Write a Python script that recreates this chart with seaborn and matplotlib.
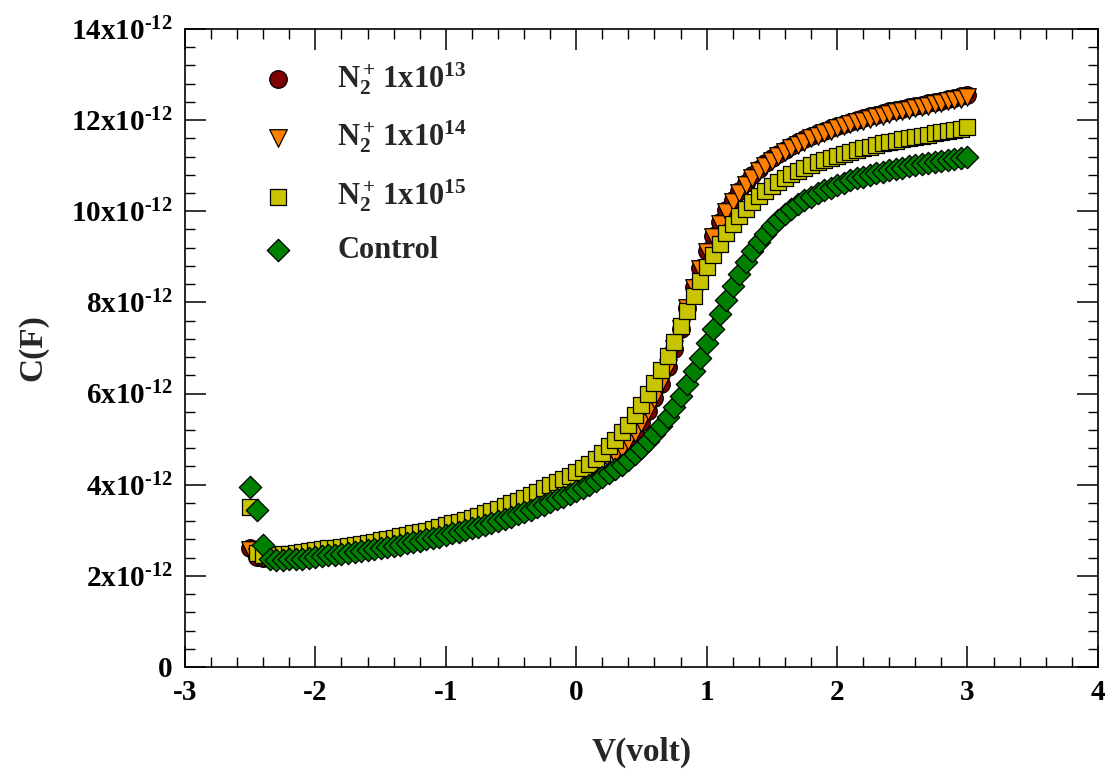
import numpy as np
import pandas as pd
import matplotlib
matplotlib.use("Agg")
import matplotlib.pyplot as plt
import seaborn as sns

# ---------------- data (C in units of 1e-12 F) ----------------
V_START, V_STOP, V_STEP = -2.5, 3.0, 0.05
voltage = np.round(np.arange(V_START, V_STOP + V_STEP / 2, V_STEP), 3)

c_1e13 = [2.62, 2.42, 2.40, 2.40, 2.41, 2.42, 2.44, 2.45, 2.47, 2.49,
          2.51, 2.53, 2.55, 2.57, 2.59, 2.61, 2.63, 2.65, 2.68, 2.70,
          2.73, 2.76, 2.79, 2.82, 2.85, 2.88, 2.91, 2.94, 2.97, 3.01,
          3.05, 3.09, 3.13, 3.17, 3.21, 3.25, 3.29, 3.34, 3.39, 3.44,
          3.49, 3.54, 3.60, 3.66, 3.72, 3.78, 3.84, 3.90, 3.96, 4.02,
          4.08, 4.15, 4.23, 4.32, 4.42, 4.53, 4.66, 4.80, 4.96, 5.15,
          5.37, 5.62, 5.90, 6.22, 6.58, 6.98, 7.42, 7.88, 8.33, 8.75,
          9.13, 9.46, 9.76, 10.02, 10.25, 10.45, 10.63, 10.79, 10.93, 11.05,
          11.16, 11.26, 11.35, 11.43, 11.51, 11.58, 11.65, 11.71, 11.77, 11.82,
          11.87, 11.92, 11.96, 12.00, 12.04, 12.08, 12.12, 12.15, 12.19, 12.22,
          12.25, 12.28, 12.31, 12.34, 12.37, 12.40, 12.43, 12.46, 12.49, 12.52,
          12.56]

c_1e14 = [2.56, 2.41, 2.39, 2.40, 2.41, 2.42, 2.43, 2.45, 2.47, 2.48,
          2.50, 2.52, 2.54, 2.56, 2.58, 2.60, 2.62, 2.65, 2.67, 2.70,
          2.72, 2.75, 2.78, 2.81, 2.84, 2.87, 2.90, 2.93, 2.97, 3.00,
          3.04, 3.08, 3.12, 3.16, 3.20, 3.24, 3.29, 3.33, 3.38, 3.43,
          3.48, 3.54, 3.59, 3.65, 3.71, 3.77, 3.83, 3.89, 3.95, 4.01,
          4.07, 4.14, 4.22, 4.31, 4.41, 4.52, 4.65, 4.79, 4.95, 5.14,
          5.36, 5.61, 5.89, 6.21, 6.57, 6.97, 7.41, 7.87, 8.31, 8.73,
          9.10, 9.43, 9.72, 9.98, 10.20, 10.40, 10.58, 10.74, 10.88, 11.00,
          11.11, 11.21, 11.30, 11.38, 11.46, 11.53, 11.60, 11.66, 11.72, 11.77,
          11.82, 11.87, 11.91, 11.95, 11.99, 12.03, 12.07, 12.10, 12.14, 12.17,
          12.20, 12.23, 12.26, 12.29, 12.32, 12.35, 12.38, 12.41, 12.44, 12.47,
          12.50]

c_1e15 = [3.50, 2.50, 2.45, 2.45, 2.46, 2.47, 2.49, 2.50, 2.52, 2.54,
          2.56, 2.58, 2.60, 2.62, 2.64, 2.66, 2.68, 2.70, 2.73, 2.75,
          2.78, 2.81, 2.84, 2.87, 2.90, 2.93, 2.96, 2.99, 3.03, 3.07,
          3.11, 3.15, 3.19, 3.23, 3.27, 3.32, 3.37, 3.42, 3.47, 3.53,
          3.59, 3.65, 3.71, 3.78, 3.85, 3.92, 3.99, 4.06, 4.13, 4.20,
          4.27, 4.36, 4.46, 4.57, 4.70, 4.84, 4.99, 5.15, 5.32, 5.52,
          5.74, 5.98, 6.24, 6.52, 6.82, 7.14, 7.48, 7.82, 8.15, 8.47,
          8.77, 9.04, 9.29, 9.52, 9.72, 9.90, 10.06, 10.20, 10.33, 10.45,
          10.55, 10.64, 10.73, 10.81, 10.88, 10.95, 11.01, 11.07, 11.12, 11.17,
          11.22, 11.26, 11.30, 11.34, 11.38, 11.42, 11.45, 11.49, 11.52, 11.55,
          11.58, 11.61, 11.63, 11.66, 11.68, 11.71, 11.73, 11.76, 11.78, 11.81,
          11.85]

c_control = [3.95, 3.45, 2.68, 2.38, 2.35, 2.35, 2.36, 2.37, 2.38, 2.40,
             2.41, 2.43, 2.45, 2.46, 2.48, 2.50, 2.52, 2.54, 2.56, 2.58,
             2.61, 2.63, 2.66, 2.68, 2.71, 2.74, 2.77, 2.80, 2.83, 2.86,
             2.89, 2.93, 2.96, 3.00, 3.04, 3.08, 3.12, 3.16, 3.21, 3.25,
             3.30, 3.35, 3.40, 3.45, 3.51, 3.56, 3.62, 3.68, 3.74, 3.80,
             3.86, 3.93, 4.00, 4.08, 4.16, 4.25, 4.34, 4.44, 4.55, 4.67,
             4.80, 4.95, 5.11, 5.29, 5.49, 5.71, 5.95, 6.21, 6.49, 6.79,
             7.10, 7.42, 7.74, 8.05, 8.35, 8.63, 8.89, 9.12, 9.33, 9.51,
             9.67, 9.81, 9.94, 10.05, 10.15, 10.24, 10.32, 10.39, 10.46, 10.52,
             10.58, 10.63, 10.68, 10.72, 10.76, 10.80, 10.84, 10.87, 10.90, 10.93,
             10.96, 10.99, 11.01, 11.04, 11.06, 11.09, 11.11, 11.13, 11.15, 11.17,
             11.19]

series_labels = [r"$\mathrm{N}_\mathrm{2}^{\,\mathrm{+}}$ 1x10$^{13}$",
                 r"$\mathrm{N}_\mathrm{2}^{\,\mathrm{+}}$ 1x10$^{14}$",
                 r"$\mathrm{N}_\mathrm{2}^{\,\mathrm{+}}$ 1x10$^{15}$",
                 "Control"]
series_values = [c_1e13, c_1e14, c_1e15, c_control]

x_ticks = [-3, -2, -1, 0, 1, 2, 3, 4]
x_ticklabels = ["-3", "-2", "-1", "0", "1", "2", "3", "4"]
y_ticks = [0, 2, 4, 6, 8, 10, 12, 14]
y_ticklabels = ["0"] + [f"{v}x10$^{{\u2010 12}}$".replace(" ", "") for v in y_ticks[1:]]

# ---------------- styling ----------------
colors = ["#7f0000", "#ff8000", "#c8c400", "#008000"]
markers = ["o", "v", "s", "D"]
sizes = [160, 160, 135, 130]

sns.set_theme(style="ticks")
plt.rcParams["font.family"] = ["Liberation Serif", "DejaVu Serif"]
plt.rcParams["font.weight"] = "bold"
plt.rcParams["mathtext.fontset"] = "custom"
plt.rcParams["mathtext.rm"] = "Liberation Serif"
plt.rcParams["mathtext.bf"] = "Liberation Serif:bold"
plt.rcParams["mathtext.it"] = "Liberation Serif:italic"
plt.rcParams["mathtext.default"] = "bf"
plt.rcParams["axes.unicode_minus"] = False

fig = plt.figure(figsize=(11.09, 7.81), dpi=100)
ax = fig.add_axes([0.1668, 0.146, 0.8232, 0.8169])

frames = []
for lab, vals in zip(series_labels, series_values):
    frames.append(pd.DataFrame({"V": voltage, "C": np.array(vals) * 1e-12, "series": lab}))
df = pd.concat(frames, ignore_index=True)

for lab, col, mk, sz in zip(series_labels, colors, markers, sizes):
    sub = df[df["series"] == lab]
    sns.scatterplot(data=sub, x="V", y="C", ax=ax, marker=mk, s=sz, color=col,
                    edgecolor="black", linewidth=0.9, label=lab, zorder=3)

ax.set_xlim(-3, 4)
ax.set_ylim(0, 14e-12)
ax.set_xticks(x_ticks)
ax.set_xticklabels(x_ticklabels)
ax.set_yticks(np.array(y_ticks) * 1e-12)
ax.set_yticklabels(y_ticklabels)
ax.set_xticks(np.arange(-3, 4.001, 0.2), minor=True)
ax.set_yticks(np.arange(0, 14.001, 0.4) * 1e-12, minor=True)

ax.tick_params(which="both", direction="in", top=True, right=True, colors="black")
ax.tick_params(which="major", length=15, width=1.1, labelsize=21, pad=9)
ax.tick_params(which="minor", length=7.5, width=1.0)
for lbl in ax.get_xticklabels() + ax.get_yticklabels():
    lbl.set_fontweight("bold")
for sp in ax.spines.values():
    sp.set_linewidth(1.2)
    sp.set_color("black")
    sp.set_visible(True)

ax.set_xlabel("V(volt)", fontsize=24, fontweight="bold", labelpad=22)
ax.set_ylabel("C(F)", fontsize=24, fontweight="bold", labelpad=16)

leg = ax.legend(loc="upper left", bbox_to_anchor=(0.048, 0.98), frameon=False,
                fontsize=22, labelspacing=0.72, handletextpad=0.95,
                borderaxespad=0.2)
for t in leg.get_texts():
    t.set_fontweight("bold")

fig.savefig("out.png", dpi=100)
